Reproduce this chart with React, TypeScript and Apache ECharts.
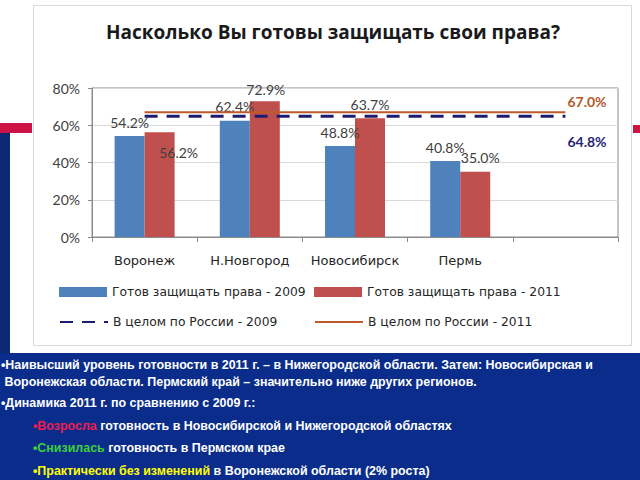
import React, { useEffect, useRef } from 'react';
import * as echarts from 'echarts';

// ---- data ----
const chartTitle = 'Насколько Вы готовы защищать свои права?';
const categories = ['Воронеж', 'Н.Новгород', 'Новосибирск', 'Пермь', ''];
const ready2009: (number | null)[] = [54.2, 62.4, 48.8, 40.8, null];
const ready2011: (number | null)[] = [56.2, 72.9, 63.7, 35.0, null];
const russia2009 = [64.8, 64.8, 64.8, 64.8, 64.8];
const russia2011 = [67.0, 67.0, 67.0, 67.0, 67.0];
const seriesNames = [
  'Готов защищать права - 2009',
  'Готов защищать права - 2011',
  'В целом по России - 2009',
  'В целом по России - 2011',
];
const yMin = 0;
const yMax = 80;
const yStep = 20;

// note lines: segments of [text, colorKey]
const noteLines: [string, string][][] = [
  [['•Наивысший уровень готовности в 2011 г. – в Нижегородской области. Затем: Новосибирская и', 'w']],
  [[' Воронежская области. Пермский край – значительно ниже других регионов.', 'w']],
  [['•Динамика 2011 г. по сравнению с 2009 г.:', 'w']],
  [['•Возросла', 'r'], [' готовность в Новосибирской и Нижегородской областях', 'w']],
  [['•Снизилась', 'g'], [' готовность в Пермском крае', 'w']],
  [['•Практически без изменений', 'y'], [' в Воронежской области (2% роста)', 'w']],
];

// ---- styles (positions / nudges kept apart from data) ----
const labelNudge2009: Record<number, number[]> = {};
const labelNudge2011: Record<number, number[]> = { 0: [19, 34], 1: [1, 2], 3: [5, 0] };
const noteX = [1, 1, 1, 33, 33, 33];
const noteY = [365, 382, 403, 426, 448, 471];

const BLUE = '#4f81bd';
const RED = '#c0504d';
const NAVY = '#1c1c72';
const ORANGE = '#bf5a2a';
const pct = (v: number) => v.toFixed(1) + '%';

function barData(vals: (number | null)[], nudge: Record<number, number[]>) {
  return vals.map((v, i) =>
    v == null ? '-' : nudge[i] ? { value: v, label: { offset: nudge[i] } } : { value: v }
  );
}

function endLabel(offsetY: number, color: string) {
  return {
    show: true,
    distance: 2,
    offset: [0, offsetY],
    formatter: (p: any) => pct(p.value),
    fontFamily: 'Lato, "Open Sans", sans-serif',
    fontSize: 14,
    fontWeight: 'bold',
    color,
  };
}

export default function App() {
  const ref = useRef<HTMLDivElement>(null);
  useEffect(() => {
    if (!ref.current) return;
    const chart = echarts.init(ref.current, undefined, { renderer: 'svg' });
    const colorMap: Record<string, string> = { w: '#ffffff', r: '#ee1d4f', g: '#3ccf3c', y: '#ffff00' };
    const noteFont = { fontFamily: '"Liberation Sans", Arial, sans-serif', fontSize: 12.45, fontWeight: 'bold' };
    const rich: Record<string, any> = {};
    Object.keys(colorMap).forEach((k) => {
      rich[k] = { ...noteFont, fill: colorMap[k], color: colorMap[k] };
    });
    const noteElems = noteLines.map((segs, i) => ({
      type: 'text',
      x: noteX[i],
      y: noteY[i],
      z: 10,
      style: {
        text: segs.map(([t, c]) => `{${c}|${t}}`).join(''),
        rich,
        fill: '#ffffff',
        font: 'bold 12.45px "Liberation Sans", Arial, sans-serif',
        verticalAlign: 'middle',
        textVerticalAlign: 'middle',
      },
    }));

    const barLabel = {
      show: true,
      position: 'top',
      distance: 7,
      formatter: (p: any) => pct(p.value),
      fontFamily: 'Lato, "Open Sans", sans-serif',
      fontSize: 14,
      color: '#404040',
    };

    const option: any = {
      animation: false,
      backgroundColor: '#ffffff',
      graphic: [
        { type: 'rect', z: -10, shape: { x: 33.5, y: 5.5, width: 598, height: 340 }, style: { fill: '#ffffff', stroke: '#d9d9d9', lineWidth: 1 } },
        { type: 'rect', z: -10, shape: { x: 0, y: 123, width: 32, height: 10 }, style: { fill: '#cc1346' } },
        { type: 'rect', z: -10, shape: { x: 633, y: 125, width: 7, height: 8 }, style: { fill: '#cc1346' } },
        { type: 'rect', z: -10, shape: { x: 0, y: 133, width: 10, height: 222 }, style: { fill: '#0b2a72' } },
        { type: 'rect', z: -10, shape: { x: 0, y: 353, width: 640, height: 127 }, style: { fill: '#0a2d8c' } },
        {
          type: 'text',
          x: 333,
          y: 32,
          z: 10,
          style: {
            text: chartTitle,
            fill: '#1a1a1a',
            font: 'bold 19px "Open Sans", "Noto Sans", sans-serif',
            textAlign: 'center',
            align: 'center',
            verticalAlign: 'middle',
            textVerticalAlign: 'middle',
          },
        },
        ...noteElems,
      ],
      grid: {
        left: 92,
        top: 88,
        width: 526,
        height: 149,
        show: true,
        borderColor: '#8a8a8a',
        borderWidth: 1,
        backgroundColor: 'transparent',
      },
      legend: [0, 1, 2, 3].map((i) => ({
        data: [seriesNames[i]],
        left: i % 2 === 0 ? 59 : 314,
        top: i < 2 ? 286 : 316,
        itemWidth: 48,
        itemHeight: 10,
        ...(i < 2 ? { icon: 'rect' } : { itemStyle: { opacity: 0, borderWidth: 0 } }),
        padding: 0,
        textStyle: { fontFamily: '"DejaVu Sans", sans-serif', fontSize: 12.3, color: '#262626' },
      })),
      xAxis: {
        type: 'category',
        data: categories,
        axisLine: { lineStyle: { color: '#8a8a8a' } },
        axisTick: { show: true, length: 5, lineStyle: { color: '#8a8a8a' } },
        axisLabel: {
          fontFamily: '"DejaVu Sans", sans-serif',
          fontSize: 13,
          color: '#262626',
          margin: 17,
          interval: 0,
        },
      },
      yAxis: {
        type: 'value',
        min: yMin,
        max: yMax,
        interval: yStep,
        axisLine: { show: true, lineStyle: { color: '#8a8a8a' } },
        axisTick: { show: true, length: 4, lineStyle: { color: '#8a8a8a' } },
        splitLine: { lineStyle: { color: '#d9d9d9' } },
        axisLabel: {
          formatter: '{value}%',
          fontFamily: 'Lato, "Open Sans", sans-serif',
          fontSize: 14,
          color: '#404040',
          margin: 12,
        },
      },
      series: [
        {
          name: seriesNames[0],
          type: 'bar',
          data: barData(ready2009, labelNudge2009),
          barWidth: 30,
          barGap: '0%',
          itemStyle: { color: BLUE },
          label: barLabel,
          z: 2,
        },
        {
          name: seriesNames[1],
          type: 'bar',
          data: barData(ready2011, labelNudge2011),
          barWidth: 30,
          barGap: '0%',
          itemStyle: { color: RED },
          label: barLabel,
          z: 2,
        },
        {
          name: seriesNames[2],
          type: 'line',
          data: russia2009,
          symbol: 'none',
          showSymbol: false,
          lineStyle: { color: NAVY, width: 3, type: [13, 9] },
          itemStyle: { color: NAVY },
          endLabel: endLabel(25, '#252578'),
          z: 5,
        },
        {
          name: seriesNames[3],
          type: 'line',
          data: russia2011,
          symbol: 'none',
          showSymbol: false,
          lineStyle: { color: ORANGE, width: 2 },
          itemStyle: { color: ORANGE },
          endLabel: endLabel(-11, '#b4582a'),
          z: 5,
        },
      ],
    };
    chart.setOption(option);
    return () => chart.dispose();
  }, []);
  return <div ref={ref} style={{ position: 'fixed', left: 0, top: 0, width: 640, height: 480 }} />;
}
